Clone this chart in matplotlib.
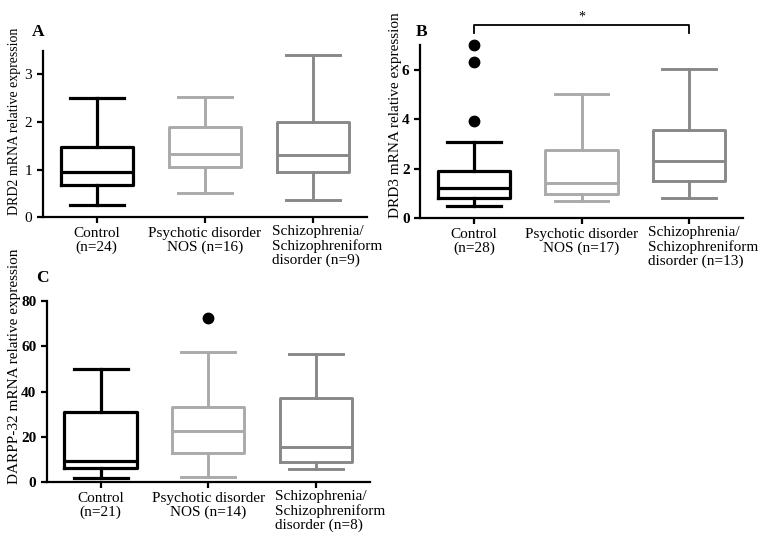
import matplotlib
matplotlib.use("Agg")
import matplotlib.pyplot as plt
from matplotlib.transforms import ScaledTranslation

plt.rcParams['font.family'] = ['Liberation Serif', 'DejaVu Serif']

# Panel A: DRD2
a_labels = ["Control\n(n=24)", "Psychotic disorder\nNOS (n=16)", "Schizophrenia/\nSchizophreniform\ndisorder (n=9)"]
a_whislo = [0.25, 0.51, 0.36]
a_q1 = [0.68, 1.05, 0.95]
a_med = [0.96, 1.33, 1.31]
a_q3 = [1.47, 1.90, 2.00]
a_whishi = [2.51, 2.53, 3.40]
a_fliers = [[], [], []]

# Panel B: DRD3
b_labels = ["Control\n(n=28)", "Psychotic disorder\nNOS (n=17)", "Schizophrenia/\nSchizophreniform\ndisorder (n=13)"]
b_whislo = [0.50, 0.70, 0.81]
b_q1 = [0.84, 0.99, 1.52]
b_med = [1.24, 1.43, 2.33]
b_q3 = [1.90, 2.75, 3.55]
b_whishi = [3.07, 5.01, 6.05]
b_fliers = [[3.91, 6.30, 6.98], [], []]

# Panel C: DARPP-32
c_labels = ["Control\n(n=21)", "Psychotic disorder\nNOS (n=14)", "Schizophrenia/\nSchizophreniform\ndisorder (n=8)"]
c_whislo = [1.9, 2.5, 6.0]
c_q1 = [6.2, 12.8, 8.8]
c_med = [9.2, 22.6, 15.7]
c_q3 = [30.9, 33.4, 37.3]
c_whishi = [50.1, 57.4, 56.6]
c_fliers = [[], [72.4], []]

colors = ["#000000", "#aaaaaa", "#888888"]

W, H = 767, 544
fig = plt.figure(figsize=(W / 100, H / 100), dpi=100)


def panel(rect, labels, whislo, q1, med, q3, whishi, fliers, ylim, yticks,
          ylabel, bold_ticks, label_dx, ylab_xy, ylab_size):
    ax = fig.add_axes(rect)
    for i in range(3):
        st = [dict(whislo=whislo[i], q1=q1[i], med=med[i], q3=q3[i],
                   whishi=whishi[i], fliers=fliers[i])]
        c = colors[i]
        lw = 2.3 if i == 0 else 2.1
        arts = ax.bxp(st, positions=[i], widths=0.67, showfliers=True,
                      boxprops=dict(color=c, linewidth=lw),
                      whiskerprops=dict(color=c, linewidth=lw),
                      capprops=dict(color=c, linewidth=lw),
                      medianprops=dict(color=c, linewidth=lw),
                      flierprops=dict(marker='o', markerfacecolor='black',
                                      markeredgecolor='black', markersize=7.5),
                      capwidths=0.5)
        for f in arts['fliers']:
            f.set_clip_on(False)
    ax.set_xlim(-0.5, 2.5)
    ax.set_ylim(*ylim)
    ax.set_yticks(yticks)
    ax.set_xticks([0, 1, 2])
    ax.set_xticklabels(labels[:2] + [""], fontsize=11, linespacing=1.05)
    xtr = ax.get_xaxis_transform() + ScaledTranslation(label_dx / 100, -8 / 100, fig.dpi_scale_trans)
    ax.text(2, 0, labels[2], transform=xtr, ha='center', va='top',
            multialignment='left', fontsize=11, linespacing=1.05)
    for sp in ['top', 'right']:
        ax.spines[sp].set_visible(False)
    for sp in ['left', 'bottom']:
        ax.spines[sp].set_linewidth(1.6)
    ax.tick_params(axis='both', width=1.6, length=4, labelsize=11)
    ax.tick_params(axis='x', pad=3)
    if bold_ticks:
        for t in ax.get_yticklabels():
            t.set_fontweight('bold')
    fig.text(ylab_xy[0] / W, 1 - ylab_xy[1] / H, ylabel, rotation=90,
             ha='center', va='center', fontsize=ylab_size)
    return ax


axA = panel([0.0557, 0.6006, 0.4228, 0.3063], a_labels, a_whislo, a_q1, a_med,
            a_q3, a_whishi, a_fliers, (0, 3.5), [0, 1, 2, 3],
            "DRD2 mRNA relative expression", False, 14, (15, 121.5), 10.0)
axB = panel([0.5476, 0.5987, 0.4211, 0.3186], b_labels, b_whislo, b_q1, b_med,
            b_q3, b_whishi, b_fliers, (0, 7), [0, 2, 4, 6],
            "DRD3 mRNA relative expression", True, 14, (395, 115.5), 11.0)
axC = panel([0.0609, 0.1134, 0.4215, 0.3333], c_labels, c_whislo, c_q1, c_med,
            c_q3, c_whishi, c_fliers, (0, 80), [0, 20, 40, 60, 80],
            "DARPP-32 mRNA relative expression", True, 14, (15, 366.5), 11.0)

fig.text(37.7 / W, 1 - 32 / H, "A", fontsize=12.5, fontweight='bold', ha='center', va='center')
fig.text(422 / W, 1 - 32 / H, "B", fontsize=12.5, fontweight='bold', ha='center', va='center')
fig.text(42 / W, 1 - 278 / H, "C", fontsize=12.5, fontweight='bold', ha='center', va='center')

# significance bracket in panel B
trans = axB.get_xaxis_transform()
axB.plot([0, 0, 2, 2], [1.069, 1.115, 1.115, 1.069], color='black', lw=1.3,
         transform=trans, clip_on=False)
axB.text(1, 1.122, "*", transform=trans, ha='center', va='bottom', fontsize=10)

fig.savefig("out.png", dpi=100, facecolor='white')
